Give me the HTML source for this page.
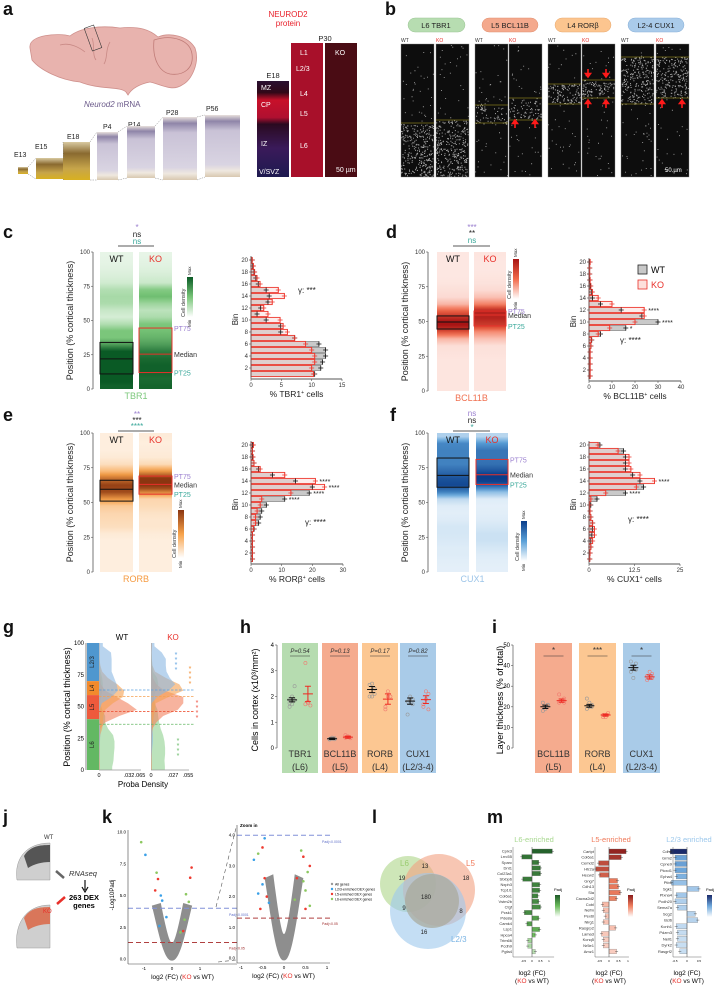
<!DOCTYPE html>
<html><head><meta charset="utf-8"><title>Neurod2 cortical layer figure</title>
<style>
html,body{margin:0;padding:0;background:#fff;}
svg{display:block;font-family:"Liberation Sans",Arial,sans-serif;}
.pl{font-size:18px;font-weight:bold;fill:#111;}
</style></head>
<body>
<svg id="fig" width="719" height="987" viewBox="0 0 719 987" xmlns="http://www.w3.org/2000/svg">
<defs>
<linearGradient id="secE18" x1="0" y1="0" x2="0" y2="1"><stop offset="0" stop-color="#d8c9a0"/><stop offset="0.3" stop-color="#8a6a30"/><stop offset="0.7" stop-color="#c7a54a"/><stop offset="1" stop-color="#d8b020"/></linearGradient>
<linearGradient id="secP" x1="0" y1="0" x2="0" y2="1"><stop offset="0" stop-color="#e8e0dc"/><stop offset="0.1" stop-color="#8f85a8"/><stop offset="0.25" stop-color="#c9c2d6"/><stop offset="0.8" stop-color="#d9d4e2"/><stop offset="0.9" stop-color="#efe8df"/><stop offset="1" stop-color="#d8c8b0"/></linearGradient>
<linearGradient id="e18prot" x1="0" y1="0" x2="0" y2="1"><stop offset="0" stop-color="#2a1030"/><stop offset="0.12" stop-color="#300818"/><stop offset="0.2" stop-color="#c8102a"/><stop offset="0.38" stop-color="#b01030"/><stop offset="0.45" stop-color="#2a0a20"/><stop offset="0.7" stop-color="#3a1a5a"/><stop offset="1" stop-color="#1e1a50"/></linearGradient>
</defs>

<g>
<text class="pl" x="3" y="15">a</text>
<g>
<path d="M30,48 C28,34 60,33 70,36 C80,28 100,25 120,28 C140,26 150,30 158,37 C170,32 188,36 195,48 C200,62 192,80 182,85 C172,92 160,84 150,82 C140,84 132,88 128,95 L126,92 C120,86 100,90 80,82 C60,80 40,70 32,60 Z" fill="#e8b3ae" stroke="#cf908c" stroke-width="0.8"/>
<path d="M154,40 C172,34 190,40 192,54 C194,68 184,76 170,74 C160,72 152,60 154,40 Z" fill="#e8b3ae" stroke="#c07c78" stroke-width="0.8"/>
<path d="M60,45 C70,42 80,48 85,52 M92,38 C95,45 92,55 96,60 M110,42 C105,50 108,58 104,64" fill="none" stroke="#c98a86" stroke-width="0.8"/>
<rect x="88" y="26" width="10" height="24" fill="none" stroke="#333" stroke-width="0.6" transform="rotate(-20 93 38)"/>
</g>
<text x="84" y="107" font-size="8" fill="#6b5a8a"><tspan font-style="italic">Neurod2</tspan> mRNA</text>
<g font-size="7" fill="#222">
<text x="14" y="157">E13</text><text x="35" y="149">E15</text><text x="67" y="139">E18</text><text x="103" y="129">P4</text><text x="128" y="127">P14</text><text x="166" y="115">P28</text><text x="206" y="111">P56</text>
</g>
<g>
<rect x="18" y="167" width="10" height="7" fill="url(#secE18)"/>
<rect x="36" y="158" width="28" height="21" fill="url(#secE18)"/>
<rect x="63" y="142" width="27" height="38" fill="url(#secE18)"/>
<rect x="97" y="132" width="21" height="48" fill="url(#secP)"/>
<rect x="127" y="126" width="28" height="52" fill="url(#secP)"/>
<rect x="163" y="117" width="34" height="63" fill="url(#secP)"/>
<rect x="205" y="115" width="35" height="62" fill="url(#secP)"/>
<path d="M28,167 L36,158 M28,174 L36,179 M64,158 L63,142 M64,179 L63,180 M90,142 L97,132 M90,180 L97,180 M118,132 L127,126 M118,180 L127,178 M155,126 L163,117 M155,178 L163,180 M197,117 L205,115 M197,180 L205,177" stroke="#888" stroke-width="0.5" stroke-dasharray="1.5,1"/>
</g>
<text x="288" y="17" font-size="8" fill="#e8202a" text-anchor="middle">NEUROD2</text>
<text x="288" y="26" font-size="8" fill="#e8202a" text-anchor="middle">protein</text>
<text x="325" y="41" font-size="7.5" fill="#222" text-anchor="middle">P30</text>
<text x="273" y="78" font-size="7.5" fill="#222" text-anchor="middle">E18</text>
<rect x="257" y="81" width="32" height="96" fill="url(#e18prot)"/>
<rect x="291" y="43" width="32" height="134" fill="#a8102a"/>
<rect x="325" y="43" width="32" height="134" fill="#4a0c14"/>
<g font-size="7" fill="#fff">
<text x="261" y="90">MZ</text><text x="261" y="107">CP</text><text x="261" y="146">IZ</text><text x="259" y="174">V/SVZ</text>
<text x="300" y="55">L1</text><text x="296" y="71">L2/3</text><text x="300" y="96">L4</text><text x="300" y="116">L5</text><text x="300" y="148">L6</text>
<text x="340" y="55" text-anchor="middle">KO</text><text x="336" y="172">50 µm</text>
</g>
</g>

<g>
<text class="pl" x="385" y="15">b</text>
<g font-size="7.5" fill="#222" text-anchor="middle">
<rect x="408" y="18" width="57" height="14" rx="7" fill="#b7ddb1" stroke="#9cc595" stroke-width="0.5"/><text x="436" y="28">L6 TBR1</text>
<rect x="482" y="18" width="56" height="14" rx="7" fill="#f4a98d" stroke="#e09070" stroke-width="0.5"/><text x="510" y="28">L5 BCL11B</text>
<rect x="555" y="18" width="56" height="14" rx="7" fill="#fcc58f" stroke="#e8aa70" stroke-width="0.5"/><text x="583" y="28">L4 RORβ</text>
<rect x="628" y="18" width="56" height="14" rx="7" fill="#aacbea" stroke="#88b0d8" stroke-width="0.5"/><text x="656" y="28">L2-4 CUX1</text>
</g>
<g id="bimgs"></g>
</g>

<g id="dyn"></g>

<g>
<text class="pl" x="3" y="238">c</text><text class="pl" x="386" y="238">d</text>
<text class="pl" x="3" y="421">e</text><text class="pl" x="390" y="421">f</text>
<text class="pl" x="3" y="633">g</text><text class="pl" x="240" y="633">h</text><text class="pl" x="492" y="633">i</text>
<text class="pl" x="3" y="823">j</text><text class="pl" x="102" y="823">k</text><text class="pl" x="372" y="823">l</text><text class="pl" x="487" y="823">m</text>
</g>
<g text-anchor="middle" font-size="8">
<text x="137" y="230" fill="#9a7fcf">*</text><text x="137" y="237" fill="#222">ns</text><text x="137" y="244" fill="#3aa89a">ns</text>
<line x1="118" y1="246" x2="154" y2="246" stroke="#222" stroke-width="0.7"/>
<text x="472" y="230" fill="#9a7fcf">***</text><text x="472" y="236" fill="#222">**</text><text x="472" y="243" fill="#3aa89a">ns</text>
<line x1="453" y1="246" x2="490" y2="246" stroke="#222" stroke-width="0.7"/>
<text x="137" y="417" fill="#9a7fcf">**</text><text x="137" y="423" fill="#222">***</text><text x="137" y="429" fill="#3aa89a">****</text>
<line x1="118" y1="431" x2="154" y2="431" stroke="#222" stroke-width="0.7"/>
<text x="472" y="416" fill="#9a7fcf">ns</text><text x="472" y="423" fill="#222">ns</text><text x="472" y="430" fill="#3aa89a">*</text>
<line x1="453" y1="431" x2="490" y2="431" stroke="#222" stroke-width="0.7"/>
</g>
<g>
<rect x="638" y="265" width="9" height="9" fill="#c8c8c8" stroke="#222" stroke-width="0.8"/><text x="651" y="273" font-size="9">WT</text>
<rect x="638" y="280" width="9" height="9" fill="#fde0dc" stroke="#e8302a" stroke-width="0.8"/><text x="651" y="288" font-size="9" fill="#e8302a">KO</text>
</g>

<g>
<path d="M17,880 C14,860 25,843 50,843 L50,880 Z" fill="#cfcfcf" stroke="#999" stroke-width="0.5"/>
<path d="M24,856 C30,846 40,845 50,845 L50,862 C42,862 34,864 28,868 Z" fill="#555"/>
<path d="M17,948 C14,925 25,905 50,905 L50,948 Z" fill="#cfcfcf" stroke="#999" stroke-width="0.5"/>
<path d="M24,918 C30,908 40,907 50,907 L50,924 C42,924 34,926 28,930 Z" fill="#d9765a"/>
<text x="44" y="839" font-size="6" fill="#333">WT</text>
<text x="43" y="913" font-size="6" fill="#e8302a">KO</text>
<path d="M56,871 L64,878" stroke="#666" stroke-width="2.5"/>
<path d="M57,904 L65,897" stroke="#e8302a" stroke-width="2.5"/>
<text x="69" y="876" font-size="7.5" font-style="italic" fill="#333">RNAseq</text>
<path d="M85,880 L85,890 M82,887 L85,892 L88,887" stroke="#111" stroke-width="1.2" fill="none"/>
<text x="84" y="900" font-size="7.5" font-weight="bold" text-anchor="middle">263 DEX</text>
<text x="84" y="908" font-size="7.5" font-weight="bold" text-anchor="middle">genes</text>
</g>
</svg>

<script>
// ===== DATA =====
const binNumbers=[1,2,3,4,5,6,7,8,9,10,11,12,13,14,15,16,17,18,19,20];
const binTickLabels=[2,4,6,8,10,12,14,16,18,20];
const tbr1WT=[10.5,11.5,11.8,12.3,12.3,11.2,7.2,4.9,4.9,2.5,1,1.6,2.8,3,2.5,1.2,0.8,0.5,0.3,0.2];
const tbr1KO=[10.3,10,10.5,10.5,10,9,7.2,6,5.3,4.8,2.8,2.1,3.5,5.5,4.5,1.5,1,0.6,0.4,0.2];
const bcl11bWT=[0.5,0.5,0.5,0.5,0.5,0.8,1.2,5,16,30,23,14,5,1.5,1,0.5,0.3,0.3,0.3,0.3];
const bcl11bKO=[0.5,0.5,0.5,0.5,0.5,0.8,1,4,9,20,24,24,10,4,1.5,0.8,0.5,0.3,0.3,0.5];
const rorbWT=[0.5,0.5,0.5,0.5,0.5,1,2.5,3,3.5,5,11,19,20,14.5,7,2.5,1,0.5,0.5,0.5];
const rorbKO=[0.5,0.5,0.5,0.5,0.5,0.8,1.5,1.5,2,3,3.5,13,24,21,11,3,1,0.7,0.5,0.8];
const cux1WT=[0.2,0.3,0.5,0.5,0.8,1,1,0.5,0.3,0.5,2.2,10,15,14,12,10,10,10,9.5,3];
const cux1KO=[0.2,0.3,0.5,1,1.5,1.5,1,0.5,0.3,0.2,0.5,4.6,13,18,14,11.5,11,11,8,2.5];
const tbr1Box=[11,22,34,12,25.5,44.5];
const bcl11bBox=[44.6,49.6,54,46.8,54.7,57.5];
const rorbBox=[51,59.5,66,56,63,69];
const cux1Box=[61,69.5,82,63,70,81];
const posTicks=[0,25,50,75,100];
const hCats=['TBR1','BCL11B','RORB','CUX1'];
const hLayers=['(L6)','(L5)','(L4)','(L2/3-4)'];
const hPvals=['P=0.54','P=0.13','P=0.17','P=0.82'];
const hMeanWT=[1.87,0.36,2.27,1.82];
const hMeanKO=[2.1,0.42,1.9,1.88];
const hSemWT=[0.08,0.03,0.12,0.12];
const hSemKO=[0.3,0.04,0.2,0.15];
const hPtsWT=[[1.6,1.7,1.85,1.9,2.0,2.4,1.75],[0.33,0.36,0.38,0.35,0.4,0.34],[2.0,2.0,2.1,2.45,2.5,2.3],[1.8,1.9,1.7,1.3,2.0,1.9]];
const hPtsKO=[[3.3,1.75,1.65,1.7,1.8],[0.4,0.45,0.38,0.5,0.42],[1.5,2.2,2.0,1.6,2.0],[1.6,1.9,2.1,1.7,2.2,1.5]];
const hTicks=[0,1,2,3,4];
const iCats=['BCL11B','RORB','CUX1'];
const iLayers=['(L5)','(L4)','(L2/3-4)'];
const iStars=['*','***','*'];
const iMeanWT=[20,20.5,39];
const iMeanKO=[23,16,34.5];
const iSemWT=[0.8,0.7,1.2];
const iSemKO=[0.8,0.5,1.0];
const iPtsWT=[[18,20,21,22,19,21],[19,20,21,24,22,20],[37,39,41,42,34,38]];
const iPtsKO=[[22,23,24,26,23,22],[15,16,17,16,15],[33,34,36,35,37,34]];
const iTicks=[0,10,20,30,40,50];
const gLayerNames=['L2/3','L4','L5','L6'];
const gLayerTop=[100,70,59,40];
const gLayerBottom=[70,59,40,0];
const gDashPos=[63,58,46,36];
const volLeftTicksX=[-1,0,1];
const volLeftTicksY=[0,2.5,5,7.5,10];
const volRightTicksX=[-1,-0.5,0,0.5,1];
const volRightTicksY=[0,1,2,3,4];
const volLeftGenesFC=[-1.1,-0.95,-0.55,-0.5,-0.4,0.7,0.65,0.5,0.6,-0.35,-0.6,0.45,-0.2,0.4,-0.45,0.3];
const volLeftGenesP=[9.2,8.2,6.8,6.3,5.0,7.2,6.4,5.1,4.5,4.6,5.4,3.1,3.3,2.2,2.6,2.1];
const volLeftGenesC=['g','b','g','r','b','r','r','g','g','b','r','g','b','r','b','g'];
const volRightGenesFC=[-0.45,-0.5,-0.6,-0.7,-0.45,0.4,0.45,0.6,0.55,0.3,-0.6,-0.4,0.5,-0.35,0.6,0.25,-0.55,0.5,-0.5,0.45];
const volRightGenesP=[3.9,3.6,3.4,3.2,2.6,3.5,3.3,3.0,2.8,2.6,2.1,2.0,2.2,1.8,1.7,1.9,1.6,1.6,2.4,2.5];
const volRightGenesC=['b','r','g','b','r','g','r','r','g','r','b','r','g','b','g','g','r','r','b','g'];
const vennLabels=['13','19','18','180','9','8','16'];
const l6Genes=['Cplx3','Lrrc55','Sparc','Dnt1','Col23a1','Stxbp6','Nxph3','Tcp1l1','Col6a1','Vstm2b','Ctgf','Pcsk1','Pde8a','Camk4','Lsp1','Hpca4','Trim66','Pcdh9','Pgfa4'];
const l6FC=[1.2,-0.6,0.4,0.5,0.5,-0.55,0.45,0.45,0.35,0.4,0.5,-0.45,0.4,-0.3,0.45,0.2,-0.25,-0.25,0.2];
const l6Padj=[0.95,0.85,0.8,0.8,0.8,0.8,0.75,0.75,0.75,0.7,0.7,0.7,0.6,0.6,0.5,0.4,0.2,0.15,0.1];
const l5Genes=['Cartpt','Col6a1','Cemd2','Htr2a','Hecw2','Gng7','Cdh13','Sla','Cacna2d2','Cobl','Nefm','Pex6l','Nlrg1','Rasgrp2','Lama3','Kcnq5','Nr5e1','Amz1'];
const l5FC=[0.9,0.65,-0.55,-0.7,-0.5,0.45,0.5,0.6,0.4,-0.35,-0.3,-0.2,-0.3,0.35,-0.4,-0.3,-0.3,0.4];
const l5Padj=[0.95,0.85,0.7,0.7,0.6,0.45,0.45,0.45,0.4,0.15,0.12,0.1,0.1,0.12,0.08,0.06,0.06,0.06];
const l23Genes=['Cdh8','Grm2','Cpne9','Plcxd1','Epha4','Ptb1','Sgk1','Plxna4','Pcdh20','Sema7a','Scg2','Bcl6','Kcnh1','Pdzrn3','Nell1','Dyrk2','Rasgrf2'];
const l23FC=[-0.7,-0.5,-0.5,-0.5,-0.45,-0.65,0.5,-0.45,-0.5,-0.4,0.35,0.45,-0.45,-0.4,-0.4,-0.45,-0.3];
const l23Padj=[1,0.45,0.45,0.42,0.35,0.25,0.2,0.2,0.15,0.15,0.12,0.12,0.08,0.06,0.05,0.05,0.05];

// ===== HELPERS =====
const NS='http://www.w3.org/2000/svg';
const svg=document.getElementById('fig');
const dyn=document.getElementById('dyn');
const defs=svg.querySelector('defs');
function el(tag,attrs,parent,name){
  const e=document.createElementNS(NS,tag);
  for(const k in attrs) e.setAttribute(k,attrs[k]);
  
  
  (parent||dyn).appendChild(e);
  return e;
}
function tx(x,y,s,attrs,parent,name){const t=el('text',Object.assign({x:x,y:y},attrs||{}),parent,name);t.textContent=s;return t;}
function hex(c){return [parseInt(c.substr(1,2),16),parseInt(c.substr(3,2),16),parseInt(c.substr(5,2),16)];}
function mix(a,b,t){const A=hex(a),B=hex(b);return 'rgb('+A.map((v,i)=>Math.round(v+(B[i]-v)*t)).join(',')+')';}
function ramp(t,mid,dark){t=Math.max(0,Math.min(1,t));return t<0.5?mix('#ffffff',mid,t*2):mix(mid,dark,(t-0.5)*2);}
let seed=7;function rnd(){seed=(seed*16807)%2147483647;return seed/2147483647;}
function valAt(arr,p){
  const b=p/5-0.5; const i=Math.max(0,Math.min(19,Math.floor(b))); const j=Math.min(19,i+1); const f=Math.max(0,Math.min(1,b-i));
  return arr[i]+(arr[j]-arr[i])*f;
}

// ===== PANEL B IMAGES =====
(function(){
  const g=document.getElementById('bimgs');
  const imgs=[
    {x:401,lab:'WT',bands:[[124,177,0.9]],lines:[123]},
    {x:436,lab:'KO',bands:[[120,177,0.9]],lines:[120]},
    {x:475,lab:'WT',bands:[[105,124,0.55]],lines:[105,123]},
    {x:509,lab:'KO',bands:[[98,120,0.55]],lines:[98,120]},
    {x:548,lab:'WT',bands:[[84,104,0.95]],lines:[84,104]},
    {x:582,lab:'KO',bands:[[80,98,0.9]],lines:[80,98]},
    {x:621,lab:'WT',bands:[[57,104,0.9]],lines:[57,104]},
    {x:656,lab:'KO',bands:[[57,98,0.9]],lines:[57,98]}];
  imgs.forEach(function(im){
    tx(im.x,42,im.lab,{'font-size':5,fill:im.lab==='KO'?'#e8302a':'#333'},g,'genotype-label');
    el('rect',{x:im.x,y:44,width:33,height:133,fill:'#0d0d0d',stroke:'#888','stroke-width':0.4},g,'stain-image');
    let d='';
    for(let n=0;n<45;n++){d+='M'+(im.x+rnd()*32).toFixed(1)+','+(45+rnd()*131).toFixed(1)+'h0.9v0.9h-0.9z';}
    im.bands.forEach(function(b){
      const cnt=Math.round((b[1]-b[0])*33*b[2]*0.17);
      for(let n=0;n<cnt;n++){d+='M'+(im.x+rnd()*32).toFixed(1)+','+(b[0]+rnd()*(b[1]-b[0])).toFixed(1)+'h1v1h-1z';}
    });
    el('path',{d:d,fill:'#e0e0e0','fill-opacity':0.75},g,'stained-cells');
    im.lines.forEach(function(y){el('line',{x1:im.x,x2:im.x+33,y1:y,y2:y,stroke:'#b8a820','stroke-width':0.6},g,'layer-boundary');});
  });
  tx(665,172,'50 µm',{'font-size':6,fill:'#fff'},g,'scale-bar-label');
  const arrows=[[515,128,-1],[535,128,-1],[588,69,1],[606,69,1],[588,108,-1],[606,108,-1],[662,108,-1],[682,108,-1]];
  arrows.forEach(function(a){
    const x=a[0],y=a[1],s=a[2];
    el('path',{d:'M'+x+','+y+' l0,'+(s*7)+' M'+(x-2.5)+','+(y+s*4.5)+' L'+x+','+(y+s*8)+' L'+(x+2.5)+','+(y+s*4.5)+'Z',stroke:'#ff1a1a','stroke-width':1.6,fill:'#ff1a1a'},g,'red-arrow');
  });
})();

// ===== HEATMAP + HISTOGRAM =====
function heatmap(c){
  const g=el('g',{},dyn,'heatmap-'+c.key);
  const yOf=function(v){return c.bot-(c.bot-c.top)*v/100;};
  const mx=Math.max.apply(null,c.wt.concat(c.ko));
  [['wt',c.wt,c.xw],['ko',c.ko,c.xk]].forEach(function(s){
    const id='hg-'+c.key+'-'+s[0];
    const lg=el('linearGradient',{id:id,x1:0,y1:0,x2:0,y2:1},defs,'gradient');
    for(let p=100;p>=0;p-=2.5){
      el('stop',{offset:((100-p)/100).toFixed(3),'stop-color':ramp(0.07+valAt(s[1],p)/mx*1.05,c.mid,c.dark)},lg,'gradient-stop');
    }
    el('rect',{x:s[2],y:c.top,width:c.w,height:c.bot-c.top,fill:'url(#'+id+')'},g,s[0]+'-density-map');
  });
  const b=c.box;
  el('rect',{x:c.xw,y:yOf(b[2]),width:c.w,height:yOf(b[0])-yOf(b[2]),fill:'none',stroke:'#111','stroke-width':1},g,'wt-iqr-box');
  el('line',{x1:c.xw,x2:c.xw+c.w,y1:yOf(b[1]),y2:yOf(b[1]),stroke:'#111','stroke-width':1},g,'wt-median-line');
  el('rect',{x:c.xk,y:yOf(b[5]),width:c.w,height:yOf(b[3])-yOf(b[5]),fill:'none',stroke:'#e8302a','stroke-width':1},g,'ko-iqr-box');
  el('line',{x1:c.xk,x2:c.xk+c.w,y1:yOf(b[4]),y2:yOf(b[4]),stroke:'#e8302a','stroke-width':1},g,'ko-median-line');
  const lx=c.xk+c.w+2;
  tx(lx,yOf(b[5])+3,'PT75',{'font-size':7,fill:'#9a7fcf'},g,'pt75-label');
  tx(lx,yOf(b[4])+3,'Median',{'font-size':7,fill:'#333'},g,'median-label');
  tx(lx,yOf(b[3])+3,'PT25',{'font-size':7,fill:'#3aa89a'},g,'pt25-label');
  tx(c.xw+c.w/2,c.top+10,'WT',{'font-size':9,'text-anchor':'middle',fill:'#111'},g,'wt-label');
  tx(c.xk+c.w/2,c.top+10,'KO',{'font-size':9,'text-anchor':'middle',fill:'#e8302a'},g,'ko-label');
  el('line',{x1:c.ax,x2:c.ax,y1:c.top,y2:c.bot,stroke:'#555','stroke-width':0.8},g,'y-axis');
  posTicks.forEach(function(t){
    el('line',{x1:c.ax-2,x2:c.ax,y1:yOf(t),y2:yOf(t),stroke:'#555','stroke-width':0.6},g,'y-tick');
    tx(c.ax-3,yOf(t)+2,String(t),{'font-size':6,'text-anchor':'end',fill:'#333'},g,'y-tick-label');
  });
  const ym=(c.top+c.bot)/2;
  tx(c.ax-20,ym,'Position (% cortical thickness)',{'font-size':9,'text-anchor':'middle',transform:'rotate(-90 '+(c.ax-20)+' '+ym+')',fill:'#222'},g,'y-axis-title');
  tx((c.xw+c.xk+c.w)/2,c.bot+10,c.label,{'font-size':9,'text-anchor':'middle',fill:c.labColor},g,'marker-label');
  const cid='cb-'+c.key;
  const cg=el('linearGradient',{id:cid,x1:0,y1:0,x2:0,y2:1},defs,'colorbar-gradient');
  el('stop',{offset:0,'stop-color':c.dark},cg,'stop');el('stop',{offset:0.5,'stop-color':c.mid},cg,'stop');el('stop',{offset:1,'stop-color':'#ffffff'},cg,'stop');
  el('rect',{x:c.cbx,y:c.cby,width:6,height:c.cbh,fill:'url(#'+cid+')'},g,'colorbar');
  tx(c.cbx+4,c.cby-2,'Max',{'font-size':4.5,transform:'rotate(-90 '+(c.cbx+4)+' '+(c.cby-2)+')',fill:'#333'},g,'colorbar-max');
  tx(c.cbx+4,c.cby+c.cbh+10,'Min',{'font-size':4.5,transform:'rotate(-90 '+(c.cbx+4)+' '+(c.cby+c.cbh+10)+')',fill:'#333'},g,'colorbar-min');
  tx(c.cbx-2,c.cby+c.cbh,'Cell density',{'font-size':5.5,transform:'rotate(-90 '+(c.cbx-2)+' '+(c.cby+c.cbh)+')',fill:'#333'},g,'colorbar-title');
}
function histogram(c){
  const g=el('g',{},dyn,'histogram-'+c.key);
  const xOf=function(v){return c.x0+v*c.pxPer;};
  const yOf=function(b){return c.bin1Y-(b-1)*6;};
  binNumbers.forEach(function(b,i){
    const y=yOf(b);
    el('rect',{x:c.x0,y:y-2.6,width:xOf(c.wt[i])-c.x0,height:5.2,fill:'#c9c9c9',stroke:'#666','stroke-width':0.5},g,'wt-bar');
    el('rect',{x:c.x0,y:y-2.6,width:xOf(c.ko[i])-c.x0,height:5.2,fill:'#fbd8d4','fill-opacity':0.45,stroke:'#ee3a30','stroke-width':0.9},g,'ko-bar');
    el('path',{d:'M'+(xOf(c.wt[i])-2.5)+','+y+'h5M'+xOf(c.wt[i])+','+(y-2.5)+'v5',stroke:'#111','stroke-width':0.8},g,'wt-error-mark');
    el('path',{d:'M'+(xOf(c.ko[i])-2.5)+','+y+'h5M'+xOf(c.ko[i])+','+(y-2.5)+'v5',stroke:'#ee3a30','stroke-width':0.8},g,'ko-error-mark');
  });
  const by=c.bin1Y+5;
  el('line',{x1:c.x0,x2:c.x0,y1:yOf(20)-4,y2:by,stroke:'#555','stroke-width':0.8},g,'y-axis');
  el('line',{x1:c.x0,x2:xOf(c.ticks[c.ticks.length-1]),y1:by,y2:by,stroke:'#777','stroke-width':1.3},g,'x-axis');
  binTickLabels.forEach(function(b){
    el('line',{x1:c.x0-2,x2:c.x0,y1:yOf(b),y2:yOf(b),stroke:'#555','stroke-width':0.6},g,'bin-tick');
    tx(c.x0-3,yOf(b)+2,String(b),{'font-size':6,'text-anchor':'end',fill:'#333'},g,'bin-tick-label');
  });
  c.ticks.forEach(function(t){
    el('line',{x1:xOf(t),x2:xOf(t),y1:by,y2:by+2,stroke:'#555','stroke-width':0.6},g,'x-tick');
    tx(xOf(t),by+8,String(t),{'font-size':6,'text-anchor':'middle',fill:'#333'},g,'x-tick-label');
  });
  const ym=(yOf(20)+by)/2;
  tx(c.x0-13,ym,'Bin',{'font-size':8,'text-anchor':'middle',transform:'rotate(-90 '+(c.x0-13)+' '+ym+')',fill:'#222'},g,'y-axis-title');
  const xl=tx((c.x0+xOf(c.ticks[c.ticks.length-1]))/2,by+18,'% '+c.label,{'font-size':8.5,'text-anchor':'middle',fill:'#222'},g,'x-axis-title');
  const sp=el('tspan',{'baseline-shift':'super','font-size':5},xl,'superscript');sp.textContent='+';
  const xl2=el('tspan',{},xl,'x-axis-title-rest');xl2.textContent=' cells';
  tx(c.gx,c.gy,'γ: '+c.gamma,{'font-size':8,fill:'#222'},g,'gamma-significance');
  c.sig.forEach(function(s){tx(xOf(s[1])+4,yOf(s[0])+3,s[2],{'font-size':7,fill:'#222'},g,'bin-significance');});
}
heatmap({key:'tbr1',wt:tbr1WT,ko:tbr1KO,box:tbr1Box,xw:100,xk:139,w:33,top:252,bot:389,ax:93,mid:'#78c578',dark:'#0a5a25',label:'TBR1',labColor:'#7cc87c',cbx:187,cby:277,cbh:40});
histogram({key:'tbr1',wt:tbr1WT,ko:tbr1KO,x0:251,pxPer:91/15,ticks:[0,5,10,15],bin1Y:374,label:'TBR1',gamma:'***',gx:298,gy:293,sig:[]});
heatmap({key:'bcl11b',wt:bcl11bWT,ko:bcl11bKO,box:bcl11bBox,xw:437,xk:474,w:32,top:252,bot:391,ax:428,mid:'#f26a4a',dark:'#a81414',label:'BCL11B',labColor:'#f07050',cbx:513,cby:259,cbh:40});
histogram({key:'bcl11b',wt:bcl11bWT,ko:bcl11bKO,x0:589,pxPer:92/40,ticks:[0,10,20,30,40],bin1Y:376,label:'BCL11B',gamma:'****',gx:620,gy:343,sig:[[12,24,'****'],[10,30,'****'],[9,16,'*']]});
heatmap({key:'rorb',wt:rorbWT,ko:rorbKO,box:rorbBox,xw:100,xk:139,w:33,top:433,bot:572,ax:93,mid:'#f7a24a',dark:'#8a3510',label:'RORB',labColor:'#f59a40',cbx:178,cby:510,cbh:48});
histogram({key:'rorb',wt:rorbWT,ko:rorbKO,x0:251,pxPer:92/30,ticks:[0,10,20,30],bin1Y:559,label:'RORβ',gamma:'****',gx:305,gy:525,sig:[[14,21,'****'],[13,24,'****'],[12,19,'****'],[11,11,'****']]});
heatmap({key:'cux1',wt:cux1WT,ko:cux1KO,box:cux1Box,xw:437,xk:476,w:32,top:433,bot:572,ax:428,mid:'#5aa0d8',dark:'#0a3d8a',label:'CUX1',labColor:'#9cc4e8',cbx:521,cby:521,cbh:40});
histogram({key:'cux1',wt:cux1WT,ko:cux1KO,x0:589,pxPer:91/25,ticks:[0,12.5,25],bin1Y:559,label:'CUX1',gamma:'****',gx:628,gy:522,sig:[[14,18,'****'],[12,10,'****']]});

// ===== PANEL G =====
(function(){
  const g=el('g',{},dyn,'panel-g-density');
  const yOf=function(v){return 770-127*v/100;};
  const layerCols=['#4f97cf','#f28a2c','#ee5a3c','#63b863'];
  gLayerNames.forEach(function(n,i){
    el('rect',{x:87,y:yOf(gLayerTop[i]),width:12,height:yOf(gLayerBottom[i])-yOf(gLayerTop[i]),fill:layerCols[i]},g,'layer-band-'+n);
    const yc=(yOf(gLayerTop[i])+yOf(gLayerBottom[i]))/2;
    tx(94,yc,n,{'font-size':6,'text-anchor':'middle',transform:'rotate(-90 94 '+yc+')',fill:'#222'},g,'layer-band-label');
  });
  const series=[[tbr1WT,tbr1KO,'#8fd08f'],[bcl11bWT,bcl11bKO,'#f2805e'],[rorbWT,rorbKO,'#f5a050'],[cux1WT,cux1KO,'#8ab8e2']];
  [[0,99,41/0.065],[1,151,37/0.055]].forEach(function(side){
    series.forEach(function(s){
      const arr=s[side[0]];
      let d='M'+side[1]+','+yOf(0);
      for(let p=0;p<=100;p+=2.5){d+=' L'+(side[1]+valAt(arr,p)/500*side[2]).toFixed(1)+','+yOf(p).toFixed(1);}
      d+=' L'+side[1]+','+yOf(100)+'Z';
      el('path',{d:d,fill:s[2],'fill-opacity':0.6},g,side[0]?'ko-density-area':'wt-density-area');
    });
  });
  const dc=['#5aa0e0','#f5a050','#ee5a3c','#63b863'];
  gDashPos.forEach(function(v,i){el('line',{x1:99,x2:194,y1:yOf(v),y2:yOf(v),stroke:dc[i],'stroke-width':0.8,'stroke-dasharray':'2.5,1.5'},g,'layer-median-line');});
  el('line',{x1:86,x2:86,y1:yOf(100),y2:yOf(0),stroke:'#555','stroke-width':0.7},g,'y-axis');
  posTicks.forEach(function(t){tx(84,yOf(t)+2,String(t),{'font-size':6,'text-anchor':'end'},g,'y-tick-label');});
  tx(70,707,'Position (% cortical thickness)',{'font-size':9,'text-anchor':'middle',transform:'rotate(-90 70 707)'},g,'y-axis-title');
  el('line',{x1:99,x2:141,y1:770,y2:770,stroke:'#999','stroke-width':0.8},g,'x-axis-wt');
  el('line',{x1:151,x2:189,y1:770,y2:770,stroke:'#999','stroke-width':0.8},g,'x-axis-ko');
  [['0',99],['.032',129],['.065',140],['0',151],['.027',173],['.055',188]].forEach(function(t){tx(t[1],777,t[0],{'font-size':5.5,'text-anchor':'middle'},g,'x-tick-label');});
  tx(143,787,'Proba Density',{'font-size':8,'text-anchor':'middle'},g,'x-axis-title');
  tx(122,640,'WT',{'font-size':8,'text-anchor':'middle'},g,'wt-title');
  tx(173,640,'KO',{'font-size':8,'text-anchor':'middle',fill:'#e8302a'},g,'ko-title');
  [[176,652,'#5aa0e0'],[190,666,'#f28a2c'],[197,700,'#ee4a3a'],[178,738,'#63b863']].forEach(function(s){
    for(let k=0;k<4;k++) tx(s[0],s[1]+k*5+5,'*',{'font-size':7,'text-anchor':'middle',fill:s[2]},g,'significance-star');
  });
})();

// ===== PANEL H / I =====
function dotPanel(c){
  const g=el('g',{},dyn,'panel-'+c.key);
  const yOf=function(v){return c.y0-v*c.py;};
  c.cats.forEach(function(cat,i){
    const x=c.cols[i];
    el('rect',{x:x,y:643,width:c.cw,height:130,fill:c.colors[i]},g,'category-band-'+cat);
    tx(x+c.cw/2,757,cat,{'font-size':9,'text-anchor':'middle',fill:'#333'},g,'category-label');
    tx(x+c.cw/2,770,c.layers[i],{'font-size':9,'text-anchor':'middle',fill:'#333'},g,'layer-label');
    tx(x+c.cw/2,653,c.top[i],{'font-size':c.key==='h'?6:8,'text-anchor':'middle','font-style':c.key==='h'?'italic':'normal',fill:'#333'},g,'significance-label');
    el('line',{x1:x+c.cw/2-10,x2:x+c.cw/2+10,y1:656,y2:656,stroke:'#333','stroke-width':0.6},g,'significance-bar');
    const xw=x+c.cw*0.28,xk=x+c.cw*0.72;
    c.pw[i].forEach(function(v,k){el('circle',{cx:xw+((k%3)-1)*2.5,cy:yOf(v),r:1.6,fill:'none',stroke:'#999','stroke-width':0.6},g,'wt-point');});
    c.pk[i].forEach(function(v,k){el('circle',{cx:xk+((k%3)-1)*2.5,cy:yOf(v),r:1.6,fill:'none',stroke:'#f07a70','stroke-width':0.6},g,'ko-point');});
    [[xw,c.mw[i],c.sw[i],'#111'],[xk,c.mk[i],c.sk[i],'#ee2a22']].forEach(function(m){
      const y=yOf(m[1]),e=m[2]*c.py;
      el('path',{d:'M'+(m[0]-5)+','+y+'h10M'+m[0]+','+(y-e)+'v'+(2*e)+'M'+(m[0]-3)+','+(y-e)+'h6M'+(m[0]-3)+','+(y+e)+'h6',stroke:m[3],'stroke-width':1},g,'mean-sem-mark');
    });
  });
  el('line',{x1:c.ax,x2:c.ax,y1:yOf(c.ticks[c.ticks.length-1]),y2:c.y0,stroke:'#555','stroke-width':0.7},g,'y-axis');
  c.ticks.forEach(function(t){
    el('line',{x1:c.ax-2,x2:c.ax,y1:yOf(t),y2:yOf(t),stroke:'#555','stroke-width':0.6},g,'y-tick');
    tx(c.ax-3,yOf(t)+2,String(t),{'font-size':6,'text-anchor':'end'},g,'y-tick-label');
  });
  tx(c.tx,700,c.title,{'font-size':9,'text-anchor':'middle',transform:'rotate(-90 '+c.tx+' 700)'},g,'y-axis-title');
}
dotPanel({key:'h',cats:hCats,layers:hLayers,top:hPvals,mw:hMeanWT,mk:hMeanKO,sw:hSemWT,sk:hSemKO,pw:hPtsWT,pk:hPtsKO,ticks:hTicks,y0:748,py:25.75,ax:277,cols:[282,322,362,400],cw:36,colors:['#b6dcb0','#f5ab8e','#fcc792','#a9cbe8'],tx:258,title:'Cells in cortex (x10³/mm²)'});
dotPanel({key:'i',cats:iCats,layers:iLayers,top:iStars,mw:iMeanWT,mk:iMeanKO,sw:iSemWT,sk:iSemKO,pw:iPtsWT,pk:iPtsKO,ticks:iTicks,y0:748,py:2.06,ax:513,cols:[535,579,623],cw:37,colors:['#f5ab8e','#fcc792','#a9cbe8'],tx:503,title:'Layer thickness (% of total)'});

// ===== PANEL K VOLCANO =====
function volcano(c){
  const g=el('g',{},dyn,'volcano-'+c.key);
  const xOf=function(v){return c.x0+v*c.px;};
  const yOf=function(v){return c.y0-v*c.py;};
  const w=c.xmax, h=c.cloudTop;
  const d='M'+xOf(-0.45*w)+','+yOf(h)+' C'+xOf(-0.3*w)+','+yOf(h*0.5)+' '+xOf(-0.18*w)+','+yOf(-0.05*h)+' '+xOf(0)+','+yOf(-0.03*h)+' C'+xOf(0.18*w)+','+yOf(-0.05*h)+' '+xOf(0.3*w)+','+yOf(h*0.5)+' '+xOf(0.45*w)+','+yOf(h)+' L'+xOf(0.25*w)+','+yOf(h*1.05)+' C'+xOf(0.12*w)+','+yOf(h*0.5)+' '+xOf(0.05*w)+','+yOf(h*0.3)+' '+xOf(0)+','+yOf(h*0.3)+' C'+xOf(-0.05*w)+','+yOf(h*0.3)+' '+xOf(-0.12*w)+','+yOf(h*0.5)+' '+xOf(-0.25*w)+','+yOf(h*1.05)+'Z';
  el('path',{d:d,fill:'#8e8e8e'},g,'all-genes-cloud');
  const cm={g:'#8cc860',b:'#3aa0e8',r:'#ee3a30'};
  c.fc.forEach(function(v,i){el('circle',{cx:xOf(v),cy:yOf(c.p[i]),r:1.3,fill:cm[c.col[i]]},g,'dex-gene-point');});
  el('line',{x1:c.l,x2:c.r,y1:yOf(4),y2:yOf(4),stroke:'#8090d8','stroke-width':1,'stroke-dasharray':'5,3'},g,'padj-0001-line');
  el('line',{x1:c.l,x2:c.r,y1:yOf(1.3),y2:yOf(1.3),stroke:'#b04040','stroke-width':1,'stroke-dasharray':'5,3'},g,'padj-005-line');
  el('line',{x1:c.l,x2:c.l,y1:c.t,y2:c.y0+5,stroke:'#444','stroke-width':0.6},g,'y-axis');
  el('line',{x1:c.l,x2:c.r,y1:c.y0+5,y2:c.y0+5,stroke:'#444','stroke-width':0.6},g,'x-axis');
  c.xt.forEach(function(t){tx(xOf(t),c.y0+11,String(t),{'font-size':4.5,'text-anchor':'middle'},g,'x-tick-label');});
  c.yt.forEach(function(t){tx(c.l-2,yOf(t)+1.5,t.toFixed(1),{'font-size':4.5,'text-anchor':'end'},g,'y-tick-label');});
  const xl=tx((c.l+c.r)/2,c.y0+20,'log2 (FC) (',{'font-size':6.5,'text-anchor':'middle'},g,'x-axis-title');
  const s1=el('tspan',{fill:'#e8302a'},xl,'ko-word');s1.textContent='KO';
  const s2=el('tspan',{},xl,'vs-wt');s2.textContent=' vs WT)';
  tx(c.r-8,yOf(4)+8,'Padj<0.0001',{'font-size':3.5,fill:'#6070c8'},g,'padj-label');
  tx(c.r-8,yOf(1.3)+7,'Padj<0.05',{'font-size':3.5,fill:'#a03030'},g,'padj-label');
}
volcano({key:'left',x0:172,px:28,y0:959,py:12.7,xmax:1.6,cloudTop:4.2,l:128,r:237,t:830,fc:volLeftGenesFC,p:volLeftGenesP,col:volLeftGenesC,xt:volLeftTicksX,yt:volLeftTicksY});
volcano({key:'right',x0:284,px:43,y0:958,py:30.7,xmax:1.0,cloudTop:2.6,l:237,r:330,t:825,fc:volRightGenesFC,p:volRightGenesP,col:volRightGenesC,xt:volRightTicksX,yt:volRightTicksY});
tx(114,895,'-Log10Padj',{'font-size':6,'text-anchor':'middle',transform:'rotate(-90 114 895)'},dyn,'volcano-y-title');
tx(240,827,'Zoom in',{'font-size':4.5,'font-weight':'bold'},dyn,'zoom-in-label');
el('path',{d:'M216,907 L236,828 M218,962 L236,960',stroke:'#555','stroke-width':0.6,'stroke-dasharray':'4,3',fill:'none'},dyn,'zoom-connector');
(function(){
  const g=el('g',{},dyn,'volcano-legend');
  [['All genes','#999'],['L2/3-enriched DEX genes','#3aa0e8'],['L5-enriched DEX genes','#ee3a30'],['L6-enriched DEX genes','#8cc860']].forEach(function(r,i){
    el('circle',{cx:332,cy:884+i*5,r:1.2,fill:r[1]},g,'legend-swatch');
    tx(335,885.5+i*5,r[0],{'font-size':3.5},g,'legend-entry');
  });
})();

// ===== PANEL L VENN =====
(function(){
  const g=el('g',{},dyn,'venn-diagram');
  el('circle',{cx:408,cy:884,r:28,fill:'#b9dc9a','fill-opacity':0.7},g,'venn-l6');
  el('circle',{cx:439,cy:890,r:36,fill:'#f2a080','fill-opacity':0.6},g,'venn-l5');
  el('circle',{cx:428,cy:911,r:38,fill:'#9cc8ec','fill-opacity':0.6},g,'venn-l23');
  el('circle',{cx:432,cy:901,r:27,fill:'#a8a898','fill-opacity':0.7},g,'venn-core');
  const pos=[[425,868],[402,880],[466,880],[426,899],[404,910],[461,913],[424,934]];
  vennLabels.forEach(function(s,i){tx(pos[i][0],pos[i][1],s,{'font-size':6,'text-anchor':'middle',fill:'#222'},g,'venn-count');});
  tx(400,866,'L6',{'font-size':8,fill:'#9acc70'},g,'venn-label-l6');
  tx(466,866,'L5',{'font-size':8,fill:'#f07a5a'},g,'venn-label-l5');
  tx(451,942,'L2/3',{'font-size':8,fill:'#7ab4e4'},g,'venn-label-l23');
})();

// ===== PANEL M =====
function geneBars(c){
  const g=el('g',{},dyn,'gene-bars-'+c.key);
  const xOf=function(v){return c.x0+v*c.px;};
  tx(c.x0+2,842,c.title,{'font-size':7.5,'text-anchor':'middle',fill:c.tcol},g,'subplot-title');
  const step=106/c.genes.length;
  c.genes.forEach(function(n,i){
    const y=849+i*step;
    const v=c.fc[i];
    el('rect',{x:Math.min(xOf(0),xOf(v)),y:y,width:Math.abs(xOf(v)-xOf(0)),height:step*0.8,fill:ramp(0.15+c.padj[i]*0.85,c.mid,c.dark),stroke:'#777','stroke-width':0.3},g,'gene-bar');
    el('line',{x1:xOf(v)-1.5,x2:xOf(v)+1.5,y1:y+step*0.4,y2:y+step*0.4,stroke:'#333','stroke-width':0.4},g,'gene-error');
    tx(c.lx,y+step*0.65,n,{'font-size':4,'text-anchor':'end',fill:'#333'},g,'gene-label');
  });
  el('line',{x1:xOf(0),x2:xOf(0),y1:847,y2:957,stroke:'#444','stroke-width':0.5},g,'zero-line');
  el('line',{x1:c.lx+1,x2:c.lx+1,y1:847,y2:957,stroke:'#444','stroke-width':0.4},g,'y-axis');
  el('line',{x1:c.lx+1,x2:xOf(c.xmax),y1:957,y2:957,stroke:'#444','stroke-width':0.4},g,'x-axis');
  c.ticks.forEach(function(t){tx(xOf(t),962,String(t),{'font-size':3,'text-anchor':'middle'},g,'x-tick-label');});
  tx(c.x0,975,'log2 (FC)',{'font-size':6.5,'text-anchor':'middle'},g,'x-axis-title');
  const t2=tx(c.x0,983,'(',{'font-size':6.5,'text-anchor':'middle'},g,'x-axis-subtitle');
  const k=el('tspan',{fill:'#e8302a'},t2,'ko-word');k.textContent='KO';
  const r=el('tspan',{},t2,'vs-wt');r.textContent=' vs WT)';
  const cid='mcb-'+c.key;
  const cg=el('linearGradient',{id:cid,x1:0,y1:0,x2:0,y2:1},defs,'colorbar-gradient');
  el('stop',{offset:0,'stop-color':c.dark},cg,'stop');el('stop',{offset:0.5,'stop-color':c.mid},cg,'stop');el('stop',{offset:1,'stop-color':'#ffffff'},cg,'stop');
  el('rect',{x:c.cbx,y:895,width:5,height:22,fill:'url(#'+cid+')'},g,'padj-colorbar');
  tx(c.cbx-1,891,'Padj',{'font-size':4},g,'padj-title');
}
geneBars({key:'l6',genes:l6Genes,fc:l6FC,padj:l6Padj,x0:532,px:17,lx:512,xmax:1.3,ticks:[-0.5,0,0.5,1],title:'L6-enriched',tcol:'#a8d890',mid:'#6cbc5c',dark:'#1e5a28',cbx:555});
geneBars({key:'l5',genes:l5Genes,fc:l5FC,padj:l5Padj,x0:609,px:19,lx:594,xmax:1.05,ticks:[-0.5,0,0.5,1],title:'L5-enriched',tcol:'#f07a5a',mid:'#f08060',dark:'#8a1a1a',cbx:628});
geneBars({key:'l23',genes:l23Genes,fc:l23FC,padj:l23Padj,x0:687,px:24,lx:672,xmax:0.6,ticks:[-0.5,0,0.5],title:'L2/3 enriched',tcol:'#9cc8ec',mid:'#6ea8dc',dark:'#1a2a6a',cbx:707});
</script>
</body></html>
